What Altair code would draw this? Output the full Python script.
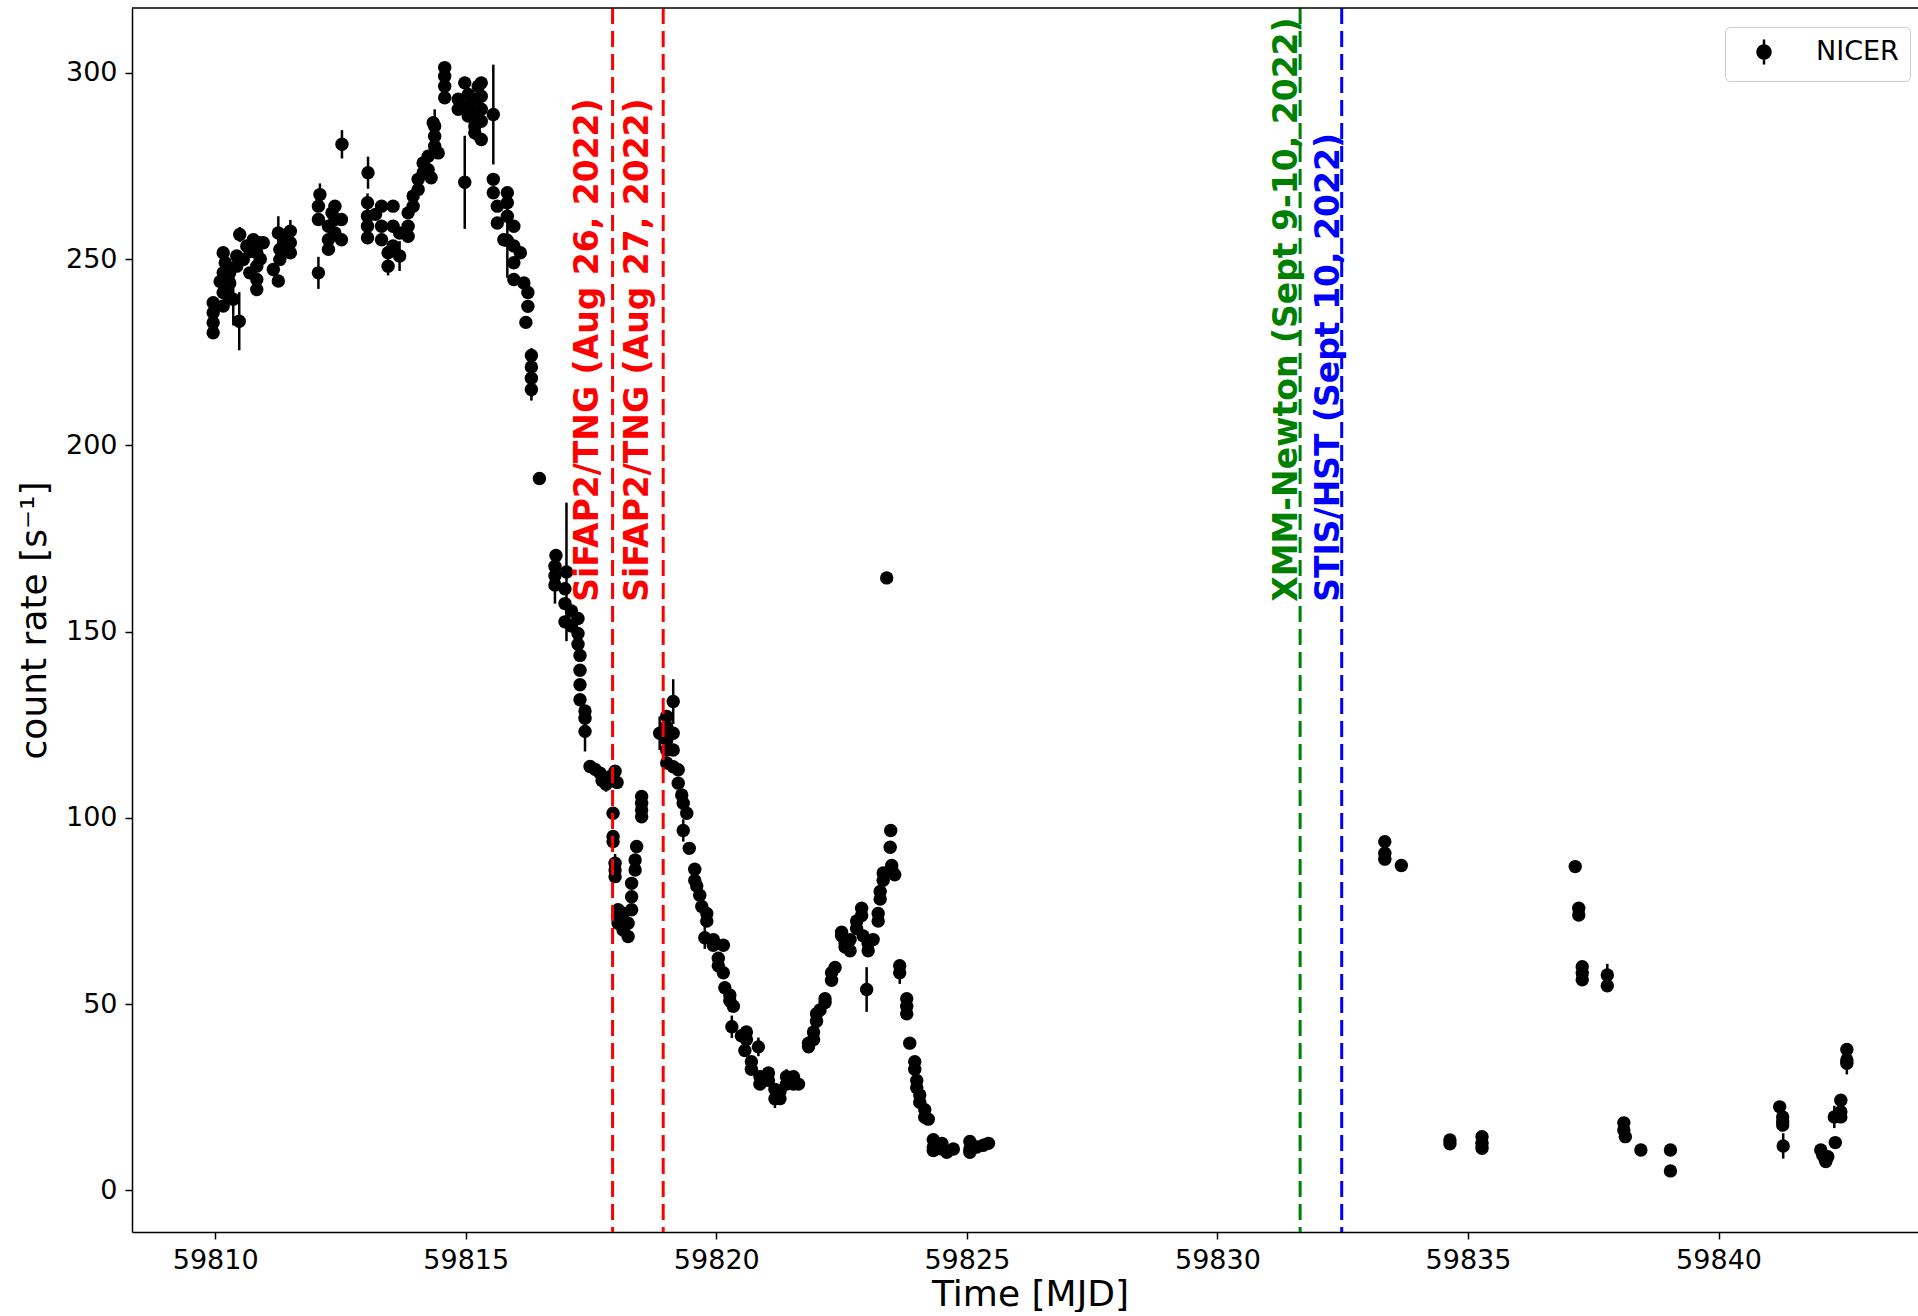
import altair as alt
import pandas as pd

# ---------------- NICER light curve ----------------
mjd = [
    # segment 1
    59809.96, 59809.96, 59809.96, 59809.96, 59810.10, 59810.16, 59810.16, 59810.16, 59810.16,
    59810.20, 59810.25, 59810.29, 59810.29, 59810.36, 59810.43, 59810.43, 59810.48, 59810.49,
    59810.56, 59810.63, 59810.69, 59810.70, 59810.76, 59810.83, 59810.83, 59810.83, 59810.83,
    59810.89, 59810.90, 59810.96,
    # segment 2
    59811.16, 59811.26, 59811.26, 59811.29, 59811.29, 59811.40, 59811.50, 59811.50, 59811.50,
    # segment 3
    59812.06, 59812.06, 59812.06, 59812.09, 59812.26, 59812.26, 59812.26, 59812.33, 59812.39,
    59812.39, 59812.39, 59812.52, 59812.52, 59812.53,
    # segment 4
    59813.05, 59813.04, 59813.04, 59813.04, 59813.04, 59813.20, 59813.32, 59813.32, 59813.32,
    59813.45, 59813.45, 59813.55, 59813.55, 59813.55, 59813.68, 59813.68, 59813.85, 59813.85,
    59813.85, 59813.95, 59813.95, 59814.05, 59814.05, 59814.15, 59814.15, 59814.25, 59814.25,
    59814.31, 59814.35, 59814.38, 59814.38, 59814.38, 59814.45, 59814.58, 59814.58, 59814.58,
    59814.58, 59814.85, 59814.85, 59814.98, 59814.98, 59815.05, 59815.05, 59815.05, 59815.18,
    59815.18, 59815.18, 59815.18, 59815.25, 59815.31, 59815.31, 59815.31, 59815.31, 59815.31,
    59815.55, 59815.55, 59815.55, 59815.63, 59815.63, 59815.76, 59815.83, 59815.83, 59815.83,
    59815.83, 59815.96, 59815.96, 59815.96, 59815.96, 59816.09, 59816.16, 59816.24, 59816.24,
    59816.20, 59816.31, 59816.31, 59816.31, 59816.31, 59816.47,
    # segment 5
    59816.80, 59816.78, 59816.78, 59816.78, 59817.01, 59816.98, 59816.98, 59816.98, 59817.11,
    59817.11, 59817.24, 59817.24, 59817.24, 59817.28, 59817.28, 59817.28, 59817.28, 59817.38,
    59817.38, 59817.38, 59817.48, 59817.58, 59817.68, 59817.72, 59817.80, 59817.88, 59817.98,
    59818.02, 59817.94, 59817.94, 59817.94, 59817.98, 59817.98, 59817.98, 59818.04, 59818.04,
    59818.04, 59818.14, 59818.14, 59818.14, 59818.24, 59818.24, 59818.31, 59818.31, 59818.31,
    59818.38, 59818.38, 59818.41, 59818.51, 59818.51, 59818.51, 59818.51,
    # segment 6
    59818.87, 59819.01, 59819.01, 59819.01, 59819.01, 59819.01, 59819.14, 59819.14, 59819.14,
    59819.14, 59819.24, 59819.24, 59819.31, 59819.34, 59819.41, 59819.34, 59819.46, 59819.57,
    59819.57, 59819.61, 59819.67, 59819.71, 59819.81, 59819.81, 59819.77, 59819.94, 59819.94,
    59820.04, 59820.04, 59820.14, 59820.14, 59820.17, 59820.27, 59820.27, 59820.34, 59820.31,
    59820.50, 59820.60, 59820.60, 59820.57, 59820.84, 59820.70, 59820.70, 59820.87, 59820.87,
    59821.04, 59821.04, 59821.17, 59821.17, 59821.27, 59821.27, 59821.40, 59821.40, 59821.54,
    59821.54, 59821.64, 59821.84, 59821.84, 59821.94, 59821.94, 59822.00, 59822.00, 59822.07,
    59822.17, 59822.17, 59822.30, 59822.30, 59822.37, 59822.50, 59822.50, 59822.57, 59822.57,
    59822.67, 59822.67, 59822.80, 59822.80, 59822.90, 59822.90, 59822.93, 59823.03, 59823.03,
    59823.00, 59823.13, 59823.23, 59823.23, 59823.27, 59823.27, 59823.33, 59823.33, 59823.50,
    59823.50, 59823.56, 59823.47, 59823.48, 59823.40, 59823.66, 59823.66, 59823.80, 59823.80,
    59823.80, 59823.86, 59823.96, 59823.96, 59824.00, 59824.00, 59824.06, 59824.06, 59824.16,
    59824.16, 59824.23, 59824.33, 59824.33, 59824.33, 59824.50, 59824.50, 59824.60, 59824.73,
    59825.06, 59825.06, 59825.06, 59825.20, 59825.33, 59825.43,
    # segment 7
    59833.34, 59833.34, 59833.34, 59833.67, 59834.64, 59834.64, 59835.28, 59835.28, 59835.28,
    59837.14, 59837.21, 59837.21, 59837.28, 59837.28, 59837.28, 59837.78, 59837.78, 59838.11,
    59838.11, 59838.14, 59838.45, 59839.04, 59839.04, 59841.22, 59841.28, 59841.28, 59841.28,
    59841.29, 59842.04, 59842.08, 59842.12, 59842.14, 59842.18, 59842.33, 59842.31, 59842.44,
    59842.44, 59842.44, 59842.56, 59842.56, 59842.56,
]

rate = [
    # segment 1
    230.2, 232.9, 235.6, 238.3, 244.0, 237.4, 241.0, 246.3, 251.7,
    249.0, 240.5, 243.6, 246.3, 239.2, 248.1, 250.8, 233.3, 256.6,
    249.9, 253.5, 246.3, 252.0, 255.2, 251.7, 248.1, 244.5, 241.8,
    254.4, 250.0, 254.4,
    # segment 2
    247.2, 244.1, 257.0, 252.6, 249.9, 255.2, 257.5, 254.4, 251.7,
    # segment 3
    246.3, 264.2, 260.6, 267.3, 258.8, 255.2, 252.6, 262.4, 264.2,
    260.6, 257.0, 260.6, 255.2, 280.8,
    # segment 4
    273.2, 265.1, 261.5, 258.8, 255.7, 262.0, 264.2, 258.8, 255.2,
    251.7, 248.1, 264.2, 258.8, 253.5, 257.0, 250.8, 262.4, 258.8,
    256.1, 264.2, 266.9, 268.7, 271.4, 273.2, 275.8, 274.0, 277.6,
    271.8, 286.6, 280.3, 283.0, 285.7, 278.5, 301.4, 299.1, 296.4,
    293.3, 292.9, 290.2, 297.3, 270.6, 294.2, 291.1, 288.4, 292.9,
    289.3, 285.7, 283.9, 296.4, 297.3, 293.7, 290.2, 287.0, 282.1,
    288.8, 271.4, 267.8, 264.2, 259.7, 255.2, 267.8, 265.1, 261.5,
    255.0, 258.8, 253.5, 249.0, 244.5, 251.7, 243.6, 241.0, 237.3,
    233.0, 224.1, 221.0, 218.0, 215.0, 191.1,
    # segment 5
    170.4, 167.5, 165.0, 162.5, 166.0, 161.5, 157.5, 152.6, 155.5,
    151.5, 153.5, 149.5, 146.6, 143.6, 139.6, 135.7, 131.7, 128.7,
    126.7, 123.2, 113.8, 113.0, 112.0, 110.0, 109.0, 111.0, 112.5,
    109.5, 101.2, 95.0, 93.6, 87.8, 86.0, 84.2, 75.3, 73.5,
    71.7, 74.4, 72.6, 69.9, 71.7, 68.1, 82.4, 78.8, 75.3,
    88.7, 86.0, 92.3, 105.7, 103.9, 102.1, 100.3,
    # segment 6
    122.7, 127.2, 124.5, 120.9, 118.2, 114.7, 131.2, 122.7, 118.2,
    113.7, 112.9, 109.3, 106.1, 103.9, 101.2, 96.6, 91.8, 86.2,
    83.2, 81.7, 79.2, 76.2, 74.3, 72.3, 67.8, 67.3, 65.8,
    62.3, 60.3, 65.8, 58.4, 54.4, 52.4, 50.9, 49.4, 43.9,
    41.5, 42.5, 40.5, 37.5, 38.5, 34.5, 32.5, 30.5, 28.5,
    31.5, 29.5, 27.1, 24.6, 26.6, 24.6, 28.5, 30.5, 30.5,
    28.5, 28.5, 39.5, 38.5, 40.5, 42.5, 45.4, 47.4, 48.4,
    50.4, 51.4, 56.4, 58.4, 59.8, 68.3, 69.3, 66.3, 65.3,
    67.3, 64.3, 70.3, 72.3, 75.7, 73.8, 68.3, 66.3, 64.3,
    53.9, 67.3, 72.3, 74.3, 78.2, 80.2, 83.2, 85.2, 87.2,
    86.2, 84.7, 92.1, 96.6, 164.4, 60.3, 58.4, 51.4, 49.4,
    47.4, 39.5, 34.5, 32.5, 29.5, 27.5, 25.6, 23.6, 21.6,
    19.6, 19.1, 13.6, 11.6, 10.7, 12.6, 11.1, 10.2, 11.1,
    13.1, 11.1, 10.2, 11.6, 12.1, 12.6,
    # segment 7
    93.6, 90.5, 88.9, 87.2, 13.5, 12.5, 14.4, 12.6, 11.3,
    86.9, 75.7, 73.9, 60.0, 58.3, 56.5, 57.8, 54.9, 18.1,
    16.2, 14.4, 10.8, 10.8, 5.2, 22.4, 19.7, 18.4, 17.5,
    11.9, 10.8, 9.5, 8.5, 7.7, 9.0, 12.8, 19.7, 24.2,
    21.1, 19.7, 37.8, 35.0, 34.1,
]

rate_err = [
    # segment 1
    1.5, 1.5, 1.5, 1.5, 1.5, 1.5, 1.5, 1.5, 1.5,
    1.5, 1.5, 1.5, 1.5, 7.0, 1.5, 1.5, 7.8, 2.0,
    1.5, 1.5, 1.5, 1.5, 1.5, 1.5, 1.5, 1.5, 1.5,
    1.5, 1.5, 1.5,
    # segment 2
    1.5, 1.5, 4.5, 1.5, 1.5, 1.5, 3.0, 1.5, 1.5,
    # segment 3
    4.3, 1.5, 1.5, 3.0, 1.5, 1.5, 1.5, 1.5, 1.5,
    1.5, 1.5, 1.5, 1.5, 3.8,
    # segment 4
    4.3, 2.5, 1.5, 1.5, 1.5, 1.5, 1.5, 1.5, 1.5,
    1.5, 2.5, 1.5, 1.5, 1.5, 1.5, 4.0, 1.5, 1.5,
    1.5, 1.5, 1.5, 1.5, 1.5, 1.5, 1.5, 1.5, 1.5,
    1.5, 1.5, 1.5, 1.5, 4.5, 1.5, 1.5, 1.5, 1.5,
    1.5, 1.5, 1.5, 1.5, 12.5, 1.5, 1.5, 1.5, 1.5,
    1.5, 2.0, 2.0, 2.0, 1.5, 1.5, 1.5, 1.5, 1.5,
    13.4, 1.5, 1.5, 1.5, 1.5, 1.5, 1.5, 1.5, 1.5,
    10.0, 1.5, 1.5, 1.5, 1.5, 1.5, 1.5, 1.5, 1.5,
    1.5, 2.0, 2.0, 5.0, 3.0, 1.5,
    # segment 5
    1.5, 1.5, 1.5, 5.0, 18.6, 1.5, 1.5, 1.5, 1.5,
    1.5, 1.5, 1.5, 1.5, 1.5, 1.5, 1.5, 1.5, 1.5,
    1.5, 5.4, 1.5, 1.5, 1.5, 1.5, 2.0, 1.5, 1.5,
    1.5, 1.5, 1.5, 1.5, 2.5, 1.5, 1.5, 1.5, 1.5,
    1.5, 1.5, 1.5, 1.5, 1.5, 1.5, 1.5, 1.5, 1.5,
    1.5, 1.5, 1.5, 1.5, 1.5, 1.5, 1.5,
    # segment 6
    4.5, 1.5, 1.5, 1.5, 1.5, 1.5, 6.0, 1.5, 1.5,
    1.5, 1.5, 1.5, 1.5, 1.5, 1.5, 3.0, 1.5, 1.5,
    1.5, 1.5, 1.5, 1.5, 1.5, 1.5, 3.0, 1.5, 1.5,
    1.5, 1.5, 1.5, 1.5, 1.5, 1.5, 3.0, 1.5, 3.0,
    1.5, 1.5, 1.5, 1.5, 2.5, 1.5, 1.5, 1.5, 1.5,
    1.5, 1.5, 1.5, 2.5, 1.5, 1.5, 1.5, 2.0, 1.5,
    1.5, 1.5, 1.5, 1.5, 1.5, 1.5, 1.5, 1.5, 1.5,
    1.5, 1.5, 1.5, 1.5, 1.5, 1.5, 1.5, 1.5, 1.5,
    1.5, 1.5, 1.5, 1.5, 1.5, 1.5, 1.5, 1.5, 1.5,
    6.0, 1.5, 1.5, 1.5, 1.5, 1.5, 1.5, 1.5, 1.5,
    1.5, 1.5, 1.5, 1.5, 1.5, 1.5, 3.0, 1.5, 1.5,
    1.5, 1.5, 1.5, 1.5, 1.5, 1.5, 1.5, 1.5, 1.5,
    1.5, 1.5, 1.5, 1.5, 1.5, 1.5, 1.5, 1.5, 1.5,
    1.5, 1.5, 1.5, 1.5, 1.5, 1.5,
    # segment 7
    1.5, 1.5, 1.5, 1.5, 1.5, 1.5, 1.5, 1.5, 1.5,
    1.5, 1.5, 1.5, 1.5, 1.5, 1.5, 3.0, 1.5, 1.5,
    1.5, 1.5, 1.5, 1.5, 1.5, 1.5, 1.5, 1.5, 1.5,
    3.4, 1.5, 1.5, 1.5, 1.5, 1.5, 1.5, 3.0, 1.5,
    1.5, 1.5, 1.5, 1.5, 3.0,
]

# ---------------- observation markers ----------------
line_mjd = [59817.93, 59818.94, 59831.65, 59832.48]
line_color = ["#ff0000", "#ff0000", "#008000", "#0000ff"]
label_text = [
    "SiFAP2/TNG (Aug 26, 2022)",
    "SiFAP2/TNG (Aug 27, 2022)",
    "XMM-Newton (Sept 9-10, 2022)",
    "STIS/HST (Sept 10, 2022)",
]
label_mjd = [59817.63, 59818.64, 59831.59, 59832.43]
label_rate = [158.0, 158.0, 158.0, 158.0]

x_ticks = [59810, 59815, 59820, 59825, 59830, 59835, 59840]
y_ticks = [0, 50, 100, 150, 200, 250, 300]

W, H = 1786, 1224
FONT = "DejaVu Sans"

df = pd.DataFrame({"mjd": mjd, "rate": rate, "err": rate_err})
df["lo"] = df["rate"] - df["err"]
df["hi"] = df["rate"] + df["err"]
df["inst"] = "NICER"

lines_df = pd.DataFrame({"mjd": line_mjd, "color": line_color})
labels_df = pd.DataFrame({"mjd": label_mjd, "rate": label_rate,
                          "text": label_text, "color": line_color})

x_scale = alt.Scale(domain=[59808.34, 59843.98], nice=False, zero=False)
y_scale = alt.Scale(domain=[-11.2, 317.4], nice=False, zero=False)

x_axis = alt.Axis(title="Time [MJD]", values=x_ticks, format="d", grid=False,
                  tickSize=7, tickWidth=1.5, labelPadding=8, labelFontSize=27,
                  titleFontSize=36, titlePadding=4, titleX=898,
                  domainWidth=1.5, labelFlush=False)
y_axis = alt.Axis(title="count rate [s⁻¹]", values=y_ticks, grid=False,
                  tickSize=7, tickWidth=1.5, labelPadding=8, labelFontSize=27,
                  titleFontSize=36, titlePadding=12, domainWidth=1.5)

err_layer = alt.Chart(df).mark_rule(color="black", strokeWidth=2.5).encode(
    x=alt.X("mjd:Q", scale=x_scale, axis=x_axis),
    y=alt.Y("lo:Q", scale=y_scale, axis=y_axis),
    y2="hi:Q",
)

legend_symbol = ("M0,-1L0,1M-0.52,0A0.52,0.52,0,1,0,0.52,0"
                 "A0.52,0.52,0,1,0,-0.52,0Z")

pts_layer = alt.Chart(df).mark_circle(size=180, opacity=1).encode(
    x=alt.X("mjd:Q", scale=x_scale),
    y=alt.Y("rate:Q", scale=y_scale),
    color=alt.Color(
        "inst:N",
        scale=alt.Scale(domain=["NICER"], range=["black"]),
        legend=alt.Legend(
            title=None, orient="none", legendX=1593, legendY=19,
            symbolType=legend_symbol, symbolSize=625,
            symbolFillColor="black", symbolStrokeColor="black",
            symbolStrokeWidth=2.5, symbolOpacity=1,
            labelFontSize=27, labelFont=FONT, labelColor="black",
            labelOffset=38, symbolOffset=14, padding=11,
            strokeColor="#cccccc", fillColor="white", cornerRadius=5,
        ),
    ),
)

vlines = alt.Chart(lines_df).mark_rule(strokeDash=[16, 7], strokeWidth=3).encode(
    x=alt.X("mjd:Q", scale=x_scale),
    color=alt.Color("color:N", scale=None),
)

labels = alt.Chart(labels_df).mark_text(
    angle=270, align="left", baseline="alphabetic",
    fontSize=33, fontWeight="bold", font=FONT,
).encode(
    x=alt.X("mjd:Q", scale=x_scale),
    y=alt.Y("rate:Q", scale=y_scale),
    text="text:N",
    color=alt.Color("color:N", scale=None),
)

top_border = alt.Chart(pd.DataFrame({"a": [0]})).mark_rule(
    color="black", strokeWidth=1.5
).encode(x=alt.value(0), x2=alt.value(W), y=alt.value(0))

chart = alt.layer(err_layer, pts_layer, vlines, labels, top_border).properties(
    width=W, height=H,
    padding={"left": 132, "top": 8, "right": 0, "bottom": 80},
    autosize=alt.AutoSizeParams(type="none"),
    background="white",
).configure_view(stroke=None).configure_axis(
    labelFont=FONT, titleFont=FONT, labelColor="black", titleColor="black",
    domainColor="black", tickColor="black", titleFontWeight="normal",
)

chart.save("out.html", embed_options={"renderer": "svg", "actions": False})
